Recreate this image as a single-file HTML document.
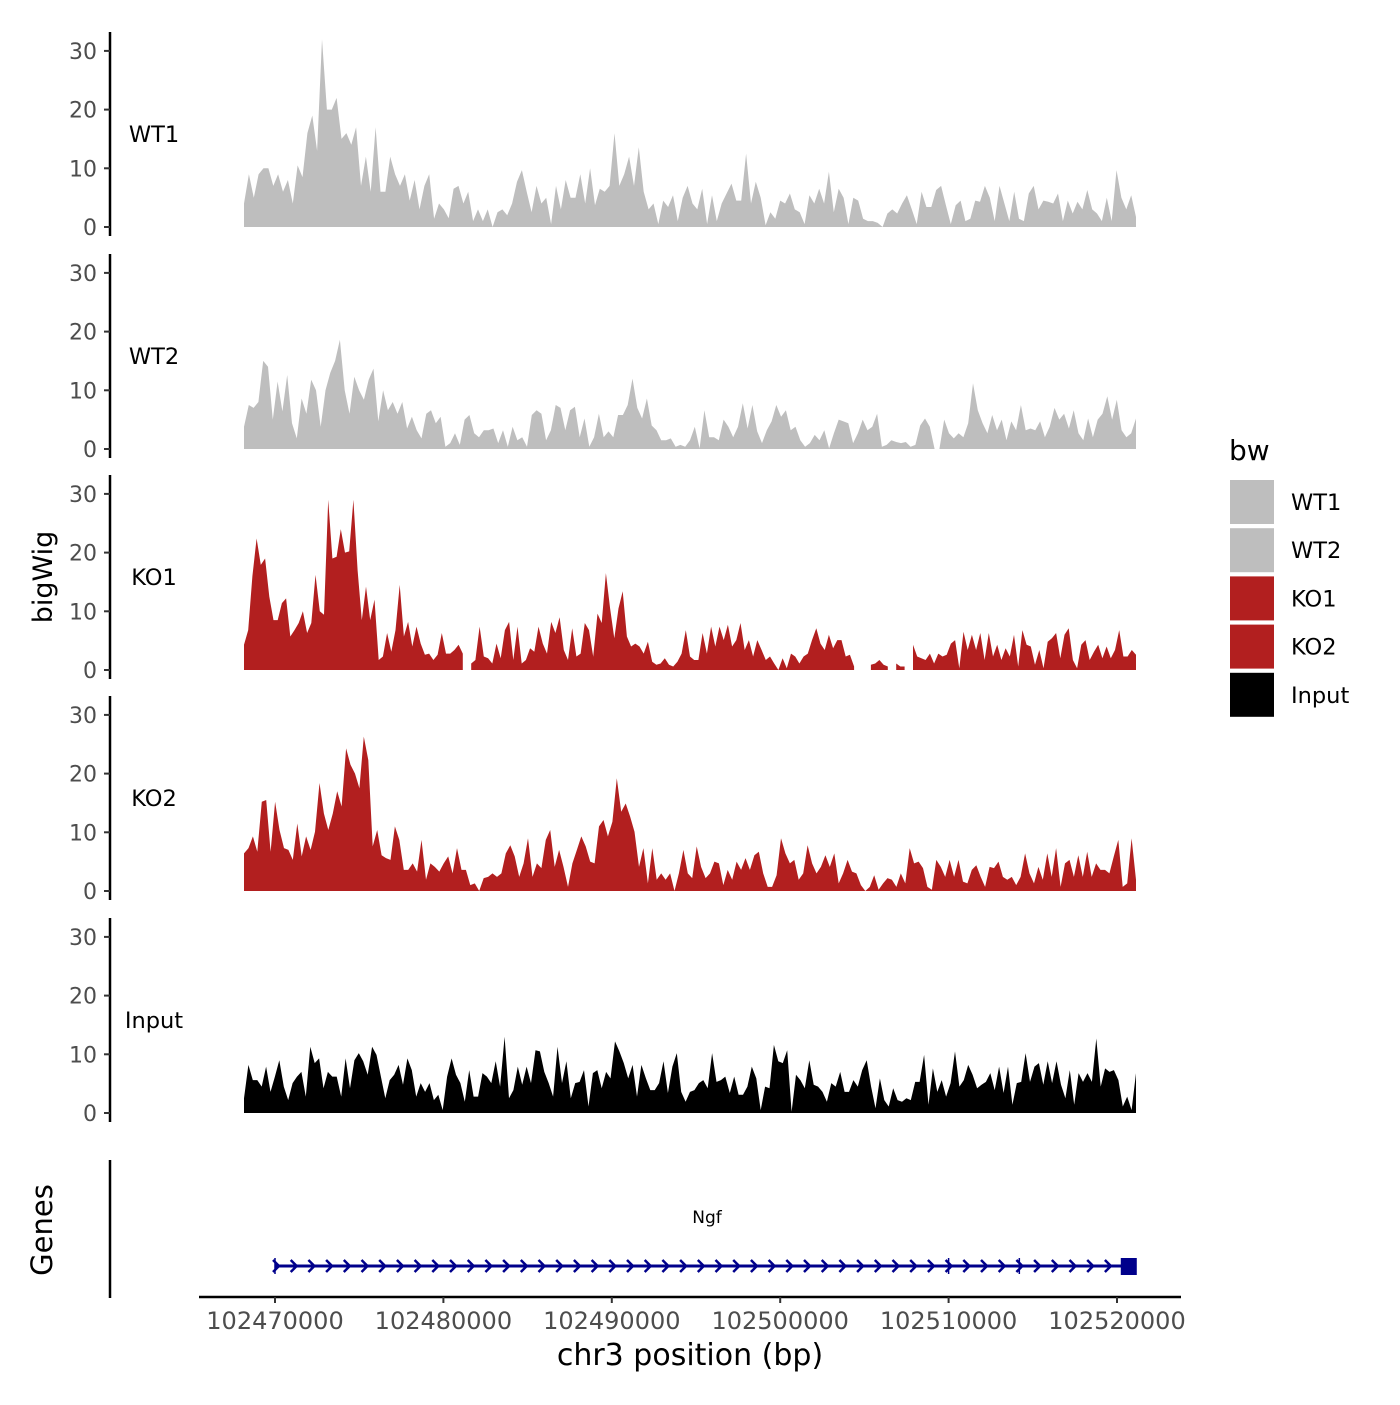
<!DOCTYPE html>
<html><head><meta charset="utf-8"><style>
body{margin:0;background:#fff}
svg{font-family:"DejaVu Sans","Liberation Sans",sans-serif}
</style></head><body>
<svg id="chart" width="1400" height="1400" viewBox="0 0 1400 1400">
<g id="tracks"></g>
<g id="genes"></g>
<g id="legend"></g>
<text x="52" y="577" font-size="27" text-anchor="middle" transform="rotate(-90 52 577)">bigWig</text>
<text x="52" y="1230" font-size="29" text-anchor="middle" transform="rotate(-90 52 1230)">Genes</text>
<text x="690" y="1365" font-size="30" text-anchor="middle">chr3 position (bp)</text>
</svg>
<script>
const trackNames = ["WT1","WT2","KO1","KO2","Input"];
const trackColors = ["#bebebe","#bebebe","#b21f1f","#b21f1f","#000000"];
const yTicks = [0,10,20,30];
const xTicks = [102470000,102480000,102490000,102500000,102510000,102520000];
const dataStart = 102468160, dataEnd = 102521130;
const wt1 = [4,9,5,9,10,10,7,9,6,8,4,10.5,8.5,16,19,13,32,20,20,22,15,16,14,17,7,12,6,17,6,6,12,9,7,9,4.5,8,3,7,9,1.4,4,3,1.5,6.5,7,4,6,1,3,1,3,0,2.5,3,2,4,7.7,9.7,6,2.5,7,4,5,0.5,7,3,8,5,5,9,4,10,3.7,6.5,6,7,16,7,9,12,7,13.6,6,3,4,0.5,4.5,3.4,5.4,1,5,7,4,3,6.5,0.5,5.4,1,4,5.7,7.4,4.5,4.5,12.5,4,7.7,5,0.3,2.5,1.4,4.5,4,5.7,3,2.5,0.5,5.4,4,6.5,4,9.4,2.5,6.5,5,0.5,5,4.5,1.4,1,1,0.7,0,2.3,3,2.3,4,5.4,3,0.5,6,3.4,3.4,6.3,7,3.7,0.5,3.7,4.5,1,1.4,4.5,4.3,7,5,1,7,4,1,6,1.4,1,5.7,7,3,4.5,4.3,4,5.7,1,4.5,2.3,4.3,3,6.3,3,2.3,1,5,1,9.7,5,3,5.4,1.7];
const wt2 = [3.8,7.5,7,8,15,14,5,11.5,6.4,12.6,4.4,1.8,8.6,6,11.8,10,3.8,10,13,15,18.6,10,6,12.3,10,8.4,11.8,13.7,4.7,10,6.6,8,6,8,3.5,5.5,3.2,1.8,6,6.6,4.4,5.5,0.4,1,2.7,0.7,5,5.8,2.7,2,3.2,3.2,3.5,1,3.2,0.4,3.8,1.5,2,0.4,5.8,6.6,6,1.5,3.2,7.5,7,3.2,6.6,7.2,2,5.2,0.4,2,6,2,3,2,5.8,5.8,7.5,12,7,5.2,8.6,4,3.2,1.5,1.5,1.8,0.4,0.7,0.4,1.5,3.8,0.1,6.6,2,2,1.5,5,3.8,2,3.8,7.8,3.5,7.5,3,1,3.2,4.7,7.5,5.5,6.6,3.2,3.8,1.5,0.4,1,2.4,1.5,3.2,0.1,2.7,5,4.7,4.4,1,2.7,5,3.2,3.8,6,0.4,0.7,1.5,1.2,1,1.2,0.4,0.7,4,5.2,3.8,0,0,5,2.7,1.8,2.7,2,4.4,11.2,6.6,4.4,2.7,5.8,3.2,5,1.5,4.7,3.2,7.5,3.2,3.5,3.2,4.7,2,3.8,7,5,6,3.5,6.6,2.7,1.5,5.2,2,5,6,9,5,8.4,3.2,2,2.7,5.2];
const ko1 = [4.3,6.8,16,22.4,17.9,19,12.5,8.5,8.5,11.4,12.2,5.7,6.8,8,10,6.3,8,16.2,10,9.4,29,19,19.3,24,20,20.2,29,17,8.5,14.2,8.5,12,1.7,2.3,6.3,3.1,6.8,14.5,5.7,8.2,4,7.4,4.5,2.6,2.8,1.7,2.6,6.3,2.8,2.8,3.4,4.3,2.8,null,1.1,1.7,7.4,2.3,2,1.1,4.5,2,6.8,8.2,1.7,7.4,1.1,1.7,3.7,3.1,7.4,4.5,2.8,8.2,6.3,9,3.4,1.7,7.1,2.3,2.8,8,6.8,2.3,9.6,8,16.5,10.5,5.4,10.5,13.4,5.7,4,4.5,4,2.8,4.8,1.4,0.9,1.1,2,0.9,0.6,1.4,2.8,6.8,2.3,1.7,1.7,6.3,2.8,7.4,4,7.4,5.1,7.7,4,5.1,8,3.4,5.1,2.3,5.1,3.4,1.7,2.3,1.1,0,2,0.3,2.8,2.3,1.1,2.3,2.8,5.1,7.1,4.5,3.4,6,3.7,5.1,5.1,2.3,2.6,0.6,null,null,null,0.9,1.1,1.7,0.9,0.6,null,1.1,0.6,0.6,null,4.3,2.3,2,1.7,2.8,1.1,2.8,2.3,2.6,4.5,5.1,0.3,6.5,3.4,6,3.4,6.3,1.7,6.3,2.3,4.3,1.7,3.7,2.3,6,0.6,6.8,4.3,4,0.9,3.4,0.3,4.8,5.4,6.3,2,6,7.1,1.7,0.3,4.3,5.1,1.7,3.1,4.3,2,4,2,3.4,6.8,2.3,2.3,3.4,2.6];
const ko2 = [6.4,7.3,9.3,6.7,15.2,15.5,6.7,15.2,10.4,7.3,7,5.3,11.5,5.9,9.3,7,10.1,18.4,13.2,10.4,13.2,17,14.4,24.3,21.5,20,17.5,26.3,22.3,7.6,10.4,6.1,5.6,5.3,11,8.7,3.6,3.6,4.7,3.3,8.7,1.9,4.7,4.1,3.3,4.7,5.9,3,7.3,3.6,3.6,1,1.3,0,2.2,2.4,3,2.4,3,6.4,7.8,5.9,2.4,4.7,9,2.4,4.7,3.9,8.7,10.4,4.1,7,4.1,0.7,4.7,7,9.3,7.6,5,4.7,11,12.1,9.3,11.8,19.2,13.5,14.9,12.7,10.1,4.1,7.3,1.3,7.3,1.9,3,1.9,3,0,3,7,3,2.2,7.6,4.1,2.2,3,5,4.7,1,3.6,1.9,5,3.6,5.6,3.6,6.1,6.7,3,0.7,0.7,2.7,9,6.4,4.7,5.3,1.9,3,7.8,4.7,3,4.1,6.1,4.1,6.4,1.3,3,5.3,3.3,3,1,0,0.7,2.7,0.2,1.3,2.2,1.9,0.7,3,1.3,7.3,4.7,5,3.9,0.7,0.2,5.3,4.1,2.4,5.3,2.4,5.3,1.6,1.3,3.6,4.4,2.4,0.7,4.1,3.9,5,2.4,1.9,2.4,1,2.4,6.4,3,1.3,4.1,1.9,6.4,2.4,7.3,0.7,4.7,5.3,2.4,6.1,2.4,6.7,2.4,4.7,3.6,3.6,3,5.9,8.7,0.7,1.3,9,1.9];
const input = [2.5,8.2,5.6,5.6,4.5,7.9,3.6,6.2,9,4.5,2.2,5.1,6.2,7,2.8,11.3,8.5,9.3,4.2,7,6.2,6.2,2.8,9.3,4.2,9,10.2,8.8,6.5,11.3,9.9,6.2,2.5,5.6,6.5,8.2,4.8,9.3,7.3,2.8,5.1,3.6,5.1,2.2,3.1,0.5,6.2,9.3,6.5,5.1,1.9,7.3,2.8,2.8,6.8,6.2,5.1,8.8,4.5,13,2.5,3.9,7.9,4.8,7.9,5.1,10.7,10.5,7,5.1,2.8,11.3,5.1,8.8,2.5,5.1,5.3,7.3,1.1,6.8,7.3,4.2,7,5.9,12.2,10.5,8.5,5.9,8.2,2.8,8.2,5.9,3.9,3.9,5.1,8.8,3.4,7.9,10.2,3.6,1.9,3.6,3.9,5.1,5.6,4.2,10.2,5.3,5.6,6.2,3.4,6.2,3.1,3.1,4.5,7.9,5.9,0.5,4.5,4.2,11.6,8.8,8.5,10.7,0.2,6.5,5.6,4.2,9,4.8,4.5,3.6,1.9,5.1,4.5,7,3.6,3.6,5.6,4.5,7.3,9,4.5,0.8,5.9,2.2,1.1,4.2,2.2,1.9,2.5,2.2,5.3,5.3,9.9,1.4,7.6,3.6,5.6,2.8,5.1,10.5,4.5,5.6,8.2,6.5,4.2,4.8,5.3,6.8,3.9,7.9,3.4,7.9,1.4,5.1,5.3,10.2,5.3,7.9,8.5,4.8,8.8,5.1,8.8,4.8,2.5,7.3,1.4,6.8,5.3,6.8,5.3,12.7,4.5,7.6,7,7.3,5.6,1.1,2.8,0.5,6.8];
const series = [wt1,wt2,ko1,ko2,input];
const legendLabels = ["WT1","WT2","KO1","KO2","Input"];
const legendColors = ["#bebebe","#bebebe","#b21f1f","#b21f1f","#000000"];
const geneName = "Ngf", geneStart = 102470000, geneEnd = 102520700;

const NS="http://www.w3.org/2000/svg";
function mk(tag, attrs, parent){const e=document.createElementNS(NS,tag);for(const k in attrs)e.setAttribute(k,attrs[k]);parent.appendChild(e);return e;}
function xScale(bp){return 275+(bp-102470000)/10000*168.4;}
const zeros=[227,449,670,891,1113];
function yScale(v,i){return zeros[i]-v*5.87;}

const tracks=document.getElementById('tracks');
series.forEach((arr,i)=>{
  const g=mk('g',{},tracks);
  
  
  const n=arr.length;
  let d='';let seg=[];
  const flush=()=>{if(seg.length){d+='M'+seg[0][0]+','+zeros[i];seg.forEach(p=>d+='L'+p[0]+','+p[1]);d+='L'+seg[seg.length-1][0]+','+zeros[i]+'Z';}seg=[];};
  arr.forEach((v,j)=>{
    const bp=dataStart+(dataEnd-dataStart)*j/(n-1);
    if(v===null){flush();return;}
    seg.push([xScale(bp).toFixed(1),yScale(v,i).toFixed(1)]);
  });
  flush();
  const p=mk('path',{d:d,fill:trackColors[i]},g);
  
  
  const ax=mk('line',{x1:110,x2:110,y1:zeros[i]-195,y2:zeros[i]+9,stroke:'#000','stroke-width':2.5},g);
  
  
  yTicks.forEach(t=>{
    const y=yScale(t,i);
    mk('line',{x1:104,x2:110,y1:y,y2:y,stroke:'#333','stroke-width':2},g);
    const tx=mk('text',{x:97,y:y+8,'font-size':22,fill:'#4d4d4d','text-anchor':'end'},g);
    tx.textContent=t;
    
    
  });
  const lab=mk('text',{x:154,y:zeros[i]-85,'font-size':22.5,'text-anchor':'middle'},g);
  lab.textContent=trackNames[i];
  
  
});

const genes=document.getElementById('genes');
mk('line',{x1:110,x2:110,y1:1160,y2:1298,stroke:'#000','stroke-width':2.5},genes);
mk('line',{x1:199,x2:1181,y1:1297,y2:1297,stroke:'#000','stroke-width':2.5},genes);
xTicks.forEach(t=>{
  const x=xScale(t);
  mk('line',{x1:x,x2:x,y1:1297,y2:1303,stroke:'#333','stroke-width':2},genes);
  const tx=mk('text',{x:x,y:1329,'font-size':24,fill:'#4d4d4d','text-anchor':'middle'},genes);
  tx.textContent=t;
  
  
});
const gs=xScale(geneStart), ge=xScale(geneEnd);
const gl=mk('line',{x1:gs,x2:ge,y1:1266,y2:1266,stroke:'#00008b','stroke-width':3},genes);


for(let x=gs+2;x<ge-8;x+=17.7){
  mk('path',{d:`M${x-4},${1260}L${x+2},${1266}L${x-4},${1272}`,fill:'none',stroke:'#00008b','stroke-width':2.5},genes);
}
[gs,xScale(102510000),xScale(102514200)].forEach(x=>mk('line',{x1:x,x2:x,y1:1258,y2:1274,stroke:'#00008b','stroke-width':1.5},genes));
const ex=mk('rect',{x:ge-8,y:1258,width:16,height:17,fill:'#00008b'},genes);


const gn=mk('text',{x:707,y:1223,'font-size':17,'text-anchor':'middle'},genes);
gn.textContent=geneName;



const legend=document.getElementById('legend');
const lt=mk('text',{x:1229,y:460,'font-size':28},legend);
lt.textContent='bw';


legendLabels.forEach((l,i)=>{
  const y=480+i*48.2;
  const r=mk('rect',{x:1230,y:y,width:44,height:44,fill:legendColors[i]},legend);
  
  
  const t=mk('text',{x:1291,y:y+30,'font-size':22.5},legend);
  t.textContent=l;
  
  
});
</script>
</body></html>
